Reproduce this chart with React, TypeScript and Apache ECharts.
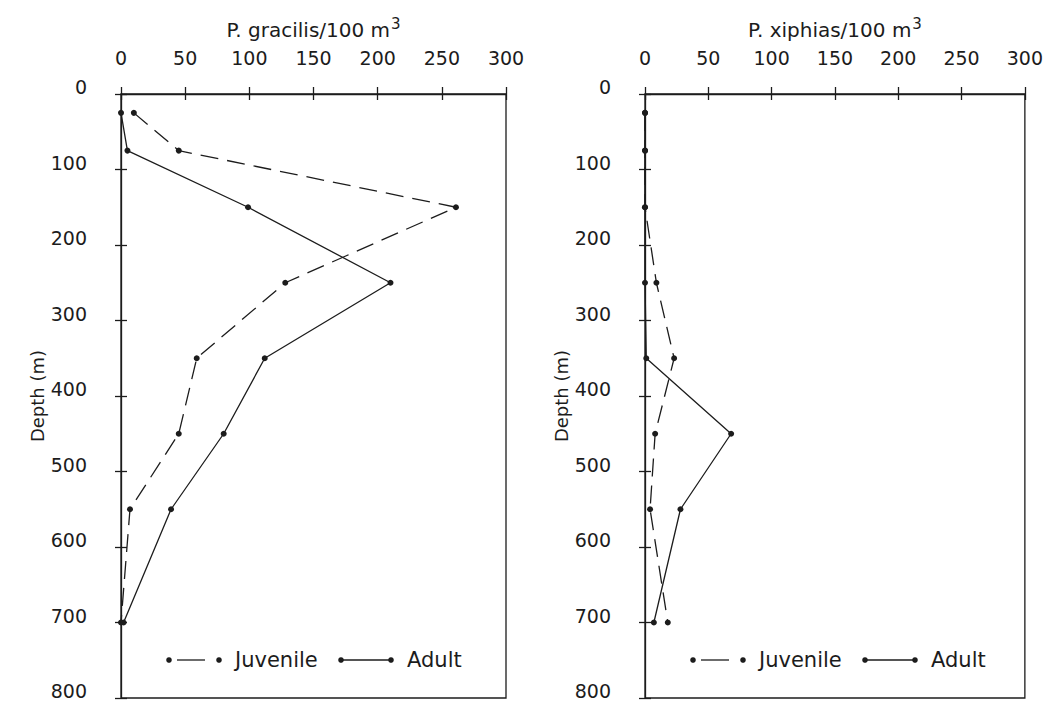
import React, { useEffect, useRef } from "react";
import * as echarts from "echarts";

const depths = [25, 75, 150, 250, 350, 450, 550, 700];
const gracilisJuvenile = [10, 45, 261, 128, 59, 45, 7, 0];
const gracilisAdult = [0, 5, 99, 210, 112, 80, 39, 2];
const xiphiasJuvenile = [0, 0, 0, 9, 23, 8, 4, 18];
const xiphiasAdult = [0, 0, 0, 0, 1, 68, 28, 7];
const xTicks = { min: 0, max: 300, interval: 50 };
const yTicks = { min: 0, max: 800, interval: 100 };
const titles = ["P. gracilis/100 m{sup|3}", "P. xiphias/100 m{sup|3}"];
const depthLabel = "Depth (m)";
const legendNames = ["Juvenile", "Adult"];

const FONT = "DejaVu Sans";
const INK = "#1c1c1c";

const grids = [
  { left: 121, top: 94, width: 385, height: 604 },
  { left: 645, top: 94, width: 382, height: 604 },
];

function pairs(xs: number[]) {
  return xs.map((x, i) => [x, depths[i]]);
}

export default function App() {
  const ref = useRef<HTMLDivElement>(null);
  useEffect(() => {
    if (!ref.current) return;
    const chart = echarts.init(ref.current, null, { renderer: "svg" });
    const xAxis: any[] = [];
    const yAxis: any[] = [];
    const lineStyle = { color: INK, width: 1.3 };
    grids.forEach((g, gi) => {
      xAxis.push({
        type: "value",
        gridIndex: gi,
        position: "top",
        ...xTicks,
        name: titles[gi],
        nameLocation: "middle",
        nameGap: 64,
        nameTextStyle: {
          fontFamily: FONT,
          fontSize: 20,
          color: INK,
          verticalAlign: "middle",
          rich: { sup: { fontFamily: FONT, fontSize: 15, color: INK, padding: [0, 0, 12, 1] } },
        },
        axisLine: { show: true, onZero: false, lineStyle },
        axisTick: { show: true, inside: false, length: 7, lineStyle },
        axisLabel: { show: true, margin: 27, fontFamily: FONT, fontSize: 19, color: INK },
        splitLine: { show: false },
      });
      xAxis.push({
        type: "value",
        gridIndex: gi,
        position: "top",
        ...xTicks,
        axisLine: { show: false, onZero: false },
        axisTick: { show: true, inside: true, length: 6, lineStyle },
        axisLabel: { show: false },
        splitLine: { show: false },
      });
      yAxis.push({
        type: "value",
        gridIndex: gi,
        position: "left",
        inverse: true,
        ...yTicks,
        name: depthLabel,
        nameLocation: "middle",
        nameGap: gi === 0 ? 60 : 67,
        nameRotate: 90,
        nameTextStyle: { fontFamily: FONT, fontSize: 18, color: INK, verticalAlign: "middle" },
        axisLine: { show: true, onZero: false, lineStyle },
        axisTick: { show: true, inside: false, length: 6, lineStyle },
        axisLabel: {
          show: true,
          margin: 34,
          fontFamily: FONT,
          fontSize: 19,
          color: INK,
          verticalAlign: "bottom",
          lineHeight: 14,
        },
        splitLine: { show: false },
      });
      yAxis.push({
        type: "value",
        gridIndex: gi,
        position: "left",
        inverse: true,
        ...yTicks,
        axisLine: { show: false, onZero: false },
        axisTick: { show: true, inside: true, length: 6, lineStyle },
        axisLabel: { show: false },
        splitLine: { show: false },
      });
    });

    const mkSeries = (name: string, values: number[], gi: number, dashed: boolean) => ({
      type: "line",
      name,
      xAxisIndex: gi * 2,
      yAxisIndex: gi * 2,
      data: pairs(values),
      symbol: "circle",
      symbolSize: 6,
      itemStyle: { color: INK },
      lineStyle: { color: INK, width: 1.3, type: dashed ? [18, 9] : "solid" },
      clip: false,
    });

    const graphic: any[] = [];
    grids.forEach((g) => {
      const y = 660;
      const x0 = g.left + 48;
      const circ = (cx: number) => ({
        type: "circle",
        shape: { cx, cy: y, r: 2.8 },
        style: { fill: INK },
      });
      graphic.push(circ(x0));
      graphic.push({
        type: "line",
        shape: { x1: x0 + 8, y1: y, x2: x0 + 36, y2: y },
        style: { stroke: INK, lineWidth: 1.3 },
      });
      graphic.push(circ(x0 + 50));
      graphic.push({
        type: "text",
        x: x0 + 66,
        y,
        style: { text: legendNames[0], fontFamily: FONT, fontSize: 21, fill: INK, verticalAlign: "middle" },
      });
      graphic.push(circ(x0 + 172));
      graphic.push({
        type: "line",
        shape: { x1: x0 + 172, y1: y, x2: x0 + 222, y2: y },
        style: { stroke: INK, lineWidth: 1.3 },
      });
      graphic.push(circ(x0 + 222));
      graphic.push({
        type: "text",
        x: x0 + 238,
        y,
        style: { text: legendNames[1], fontFamily: FONT, fontSize: 21, fill: INK, verticalAlign: "middle" },
      });
    });

    chart.setOption({
      animation: false,
      backgroundColor: "#ffffff",
      textStyle: { fontFamily: FONT },
      grid: grids.map((g) => ({
        ...g,
        containLabel: false,
        show: true,
        borderColor: INK,
        borderWidth: 1.3,
        backgroundColor: "transparent",
      })),
      xAxis,
      yAxis,
      series: [
        mkSeries("Juvenile", gracilisJuvenile, 0, true),
        mkSeries("Adult", gracilisAdult, 0, false),
        mkSeries("Juvenile", xiphiasJuvenile, 1, true),
        mkSeries("Adult", xiphiasAdult, 1, false),
      ],
      graphic,
    });
    return () => chart.dispose();
  }, []);
  return (
    <div
      ref={ref}
      style={{ position: "fixed", left: 0, top: 0, width: 1046, height: 701, background: "#fff" }}
    />
  );
}
